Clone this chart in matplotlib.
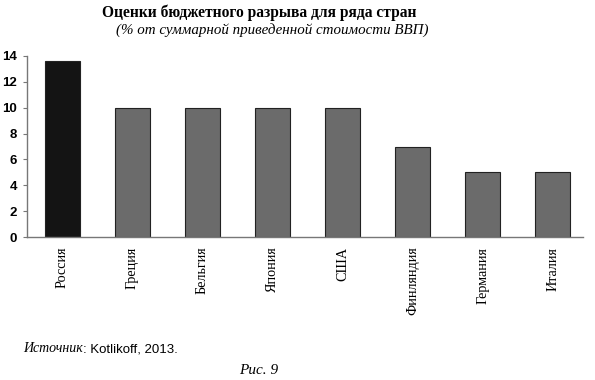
import matplotlib
matplotlib.use("Agg")
import matplotlib.pyplot as plt

countries = ["Россия", "Греция", "Бельгия", "Япония", "США", "Финляндия", "Германия", "Италия"]
values = [13.6, 10, 10, 10, 10, 7, 5, 5]
yticks = [0, 2, 4, 6, 8, 10, 12, 14]

fig = plt.figure(figsize=(5.95, 3.8), dpi=100)
ax = fig.add_axes([27/595, 1-237/380, (583-27)/595, (237-56)/380])

colors = ["#141414"] + ["#6b6b6b"] * (len(countries) - 1)
ax.bar(range(len(countries)), values, width=0.5, color=colors, edgecolor="#222222", linewidth=0.8)
ax.set_xlim(-0.5, 7.43)
ax.set_ylim(0, 14)
ax.set_yticks(yticks)
ax.set_yticklabels([str(t) for t in yticks], fontfamily="Liberation Sans", fontweight="bold", fontsize=9.5)
ax.set_xticks(range(len(countries)))
ax.set_xticklabels(countries, rotation=90, fontfamily="Liberation Serif", fontsize=10.2, va="top")
ax.tick_params(axis="x", length=0, pad=7)
ax.tick_params(axis="y", length=3, width=0.8, color="#777777", pad=4)
for s in ["top", "right"]:
    ax.spines[s].set_visible(False)
for s in ["left", "bottom"]:
    ax.spines[s].set_color("#777777")
    ax.spines[s].set_linewidth(1.0)

fig.text(259/595, 1-13/380, "Оценки бюджетного разрыва для ряда стран", ha="center", va="center",
         fontfamily="Liberation Serif", fontweight="bold", fontsize=11.2)
fig.text(272/595, 1-30/380, "(% от суммарной приведенной стоимости ВВП)", ha="center", va="center",
         fontfamily="Liberation Serif", fontstyle="italic", fontsize=10.8)

t1 = fig.text(23/595, 1-349/380, "Источник", ha="left", va="center",
              fontfamily="Liberation Serif", fontstyle="italic", fontsize=10)
fig.canvas.draw()
bb = t1.get_window_extent()
fig.text(bb.x1 / fig.bbox.width, 1-349/380, ": Kotlikoff, 2013.", ha="left", va="center",
         fontfamily="Liberation Sans", fontsize=9.5)
fig.text(259/595, 1-371/380, "Рис. 9", ha="center", va="center",
         fontfamily="Liberation Serif", fontstyle="italic", fontsize=11)

fig.savefig("out.png", dpi=100)
